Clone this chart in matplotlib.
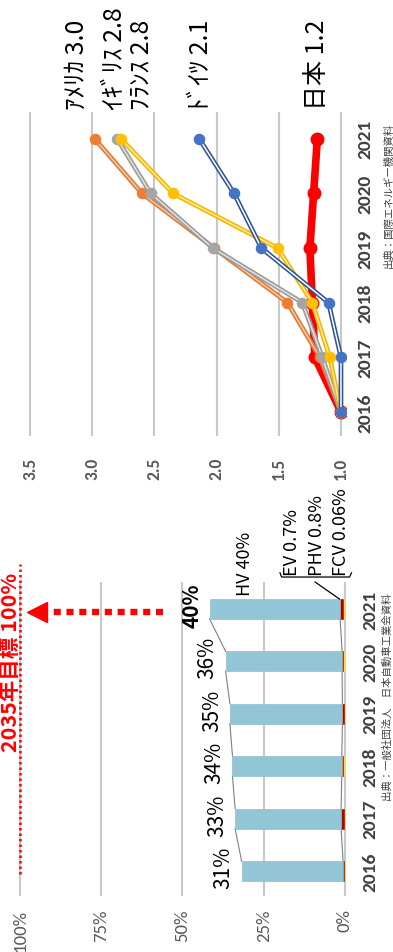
import matplotlib
matplotlib.use("Agg")
import matplotlib.pyplot as plt
from matplotlib import font_manager as fm

# ---------------- data ----------------
years = ["2016", "2017", "2018", "2019", "2020", "2021"]

usa = [1.0, 1.17, 1.43, 2.02, 2.60, 2.98]
uk = [1.0, 1.15, 1.31, 2.03, 2.53, 2.80]
france = [1.0, 1.09, 1.23, 1.51, 2.35, 2.77]
germany = [1.0, 1.0, 1.10, 1.64, 1.86, 2.14]
japan = [1.0, 1.21, 1.23, 1.25, 1.22, 1.19]

country_labels = ["ｱﾒﾘｶ 3.0", "ｲｷﾞﾘｽ 2.8", "ﾌﾗﾝｽ 2.8", "ﾄﾞｲﾂ 2.1", "日本 1.2"]
idx_ticks = [1.0, 1.5, 2.0, 2.5, 3.0, 3.5]

hv = [31.2, 32.6, 33.6, 34.6, 35.8, 40.1]
ev = [0.4, 0.4, 0.5, 0.4, 0.6, 0.7]
phv = [0.2, 0.8, 0.5, 0.4, 0.3, 0.8]
fcv = [0.02, 0.02, 0.02, 0.02, 0.02, 0.06]
pct_ticks = [0, 25, 50, 75, 100]
target = 100

# ---------------- fonts ----------------
names = {f.name for f in fm.fontManager.ttflist}
def pick(*c):
    for n in c:
        if n in names:
            return n
    return "DejaVu Sans"
NARROW = pick("Carlito", "Liberation Sans Narrow", "Liberation Sans")
scale = 1.0 if NARROW != "Liberation Sans" else 0.85
JP = ["Noto Sans CJK JP", "DejaVu Sans"]
plt.rcParams["font.family"] = JP

W, H = 393, 953
fig = plt.figure(figsize=(W / 100, H / 100), dpi=100)
fig.patch.set_facecolor("white")

def rect(l, t, r, b):
    return [l / W, (H - b) / H, (r - l) / W, (b - t) / H]

def ftext(x, y, s, **kw):
    fig.text(x / W, (H - y) / H, s, **kw)

GRID = "#C8C8C8"
TICKC = "#595959"

# ---------------- top chart: index lines ----------------
ax1 = fig.add_axes(rect(25, 113, 346, 437))
ax1.set_xlim(3.5 + 5 / 124, 1.0 - 5 / 124)
ax1.set_ylim(-0.44, 5.49)
for s in ax1.spines.values():
    s.set_visible(False)
ax1.set_xticks(idx_ticks)
ax1.set_xticklabels([f"{t:.1f}" for t in idx_ticks], rotation=90,
                    fontweight="bold", color=TICKC, fontsize=12.5 * scale,
                    family=NARROW)
ax1.tick_params(axis="x", length=0, pad=15)
ax1.xaxis.grid(True, color=GRID, lw=1.5)
ax1.set_axisbelow(True)
ypos = list(range(len(years)))
ax1.set_yticks(ypos)
ax1.set_yticklabels(years, rotation=90, va="center", fontweight="bold",
                    color="#404040", fontsize=14 * scale, family=NARROW)
ax1.yaxis.tick_right()
ax1.tick_params(axis="y", length=0, pad=8)

# Japan (thick red)
ax1.plot(japan, ypos, color="#FF0000", lw=5.5, zorder=3,
         solid_capstyle="round")
ax1.plot(japan, ypos, "o", color="#FF0000", ms=9, zorder=3)

series = [
    (usa, "#E07A35", "#F6C9A8", "#ED7D31"),
    (uk, "#9A9A9A", "#E2E2E2", "#A5A5A5"),
    (france, "#F2B800", "#FFE9A0", "#FFC000"),
    (germany, "#2F5597", "#FFFFFF", "#4472C4"),
]
for k, (vals, outer, inner, mk) in enumerate(series):
    z = 4 + k
    ax1.plot(vals, ypos, color=outer, lw=3.4, zorder=z, solid_joinstyle="round")
    ax1.plot(vals, ypos, color=inner, lw=1.1, zorder=z)
    ax1.plot(vals, ypos, "o", color=mk, ms=7.3, zorder=z)

# country labels (above the plot)
lab_x = [77, 115, 141, 201, 317]
for x, s in zip(lab_x, country_labels):
    ftext(x, 110, s, rotation=90, ha="center", va="bottom", fontsize=18,
          color="black")

ftext(388, 195, "出典：国際エネルギー機関資料", rotation=90, ha="center",
      va="center", fontsize=7.5, color="#404040")

# ---------------- bottom chart: stacked bars ----------------
ax2 = fig.add_axes(rect(15, 583, 350, 897))
ax2.set_xlim(100 + 5 / 3.25, -5 / 3.25)
ax2.set_ylim(-0.477, 5.515)
for s in ax2.spines.values():
    s.set_visible(False)
ax2.set_xticks(pct_ticks)
ax2.set_xticklabels([f"{t}%" for t in pct_ticks], rotation=90,
                    color=TICKC, fontsize=13.5 * scale, family=NARROW)
ax2.tick_params(axis="x", length=0, pad=9)
ax2.xaxis.grid(True, color=GRID, lw=1.5)
ax2.set_axisbelow(True)
ax2.set_yticks(ypos)
ax2.set_yticklabels(years, rotation=90, va="center", fontweight="bold",
                    color="#404040", fontsize=14 * scale, family=NARROW)
ax2.yaxis.tick_right()
ax2.tick_params(axis="y", length=0, pad=9)

bh = 0.38
left = [0.0] * len(years)
for vals, col in [(ev, "#FFD84A"), (phv, "#B00000"), (fcv, "#808080"),
                  (hv, "#92C6D6")]:
    ax2.barh(ypos, vals, left=left, height=bh, color=col,
             edgecolor="#7FB6C6" if col == "#92C6D6" else col, lw=0.4,
             zorder=3)
    left = [a + b for a, b in zip(left, vals)]
totals = left
base = [a + b for a, b in zip(ev, phv)]

# series lines
for i in range(len(years) - 1):
    ax2.plot([totals[i], totals[i + 1]], [i + bh / 2, i + 1 - bh / 2],
             color="#808080", lw=0.8, zorder=2)
    ax2.plot([base[i], base[i + 1]], [i + bh / 2, i + 1 - bh / 2],
             color="#808080", lw=0.8, zorder=2)

# value labels
for i, (t, v) in enumerate(zip(totals, hv)):
    ax2.annotate(f"{v:.0f}%", xy=(t, i), xytext=(-5, 3),
                 textcoords="offset points", rotation=90, ha="right",
                 va="center", fontsize=15,
                 fontweight="bold" if i == len(years) - 1 else "normal",
                 zorder=5)

# HV / EV / PHV / FCV annotations
ftext(245, 596, f"HV {hv[-1]:.0f}%", rotation=90, ha="center", va="bottom",
      fontsize=13)
ftext(292, 576, f"EV {ev[-1]:.1f}%", rotation=90, ha="center", va="bottom",
      fontsize=13)
ftext(317, 576, f"PHV {phv[-1]:.1f}%", rotation=90, ha="center", va="bottom",
      fontsize=13)
ftext(341, 576, f"FCV {fcv[-1]:.2f}%", rotation=90, ha="center", va="bottom",
      fontsize=13)

# bracket and leader line (value units: %, category index)
bx = [20.0, 19.5, -1.4, -2.0]
by = [5.69, 5.61, 5.61, 5.69]
ax2.plot(bx, by, color="black", lw=0.9, clip_on=False, zorder=6)
ax2.plot([9.2, base[-1] + 0.2], [5.515, 5.0 + bh / 2], color="black",
         lw=0.9, clip_on=False, zorder=6)

# 2035 target line + arrow
ax2.plot([target, target], [-0.06, 5.86], color="#FF0000", lw=1.8,
         dashes=(1, 1.2), clip_on=False, zorder=4)
ax2.plot([56, 90.8], [4.94, 4.94], color="#FF0000", lw=4.6,
         dashes=(1.1, 0.9), dash_capstyle="butt", zorder=4)
ax2.plot([94.9], [4.94], marker="<", color="#FF0000", ms=14, zorder=4)
ftext(10.5, 662, "2035年目標 100%", rotation=90, ha="center", va="center",
      fontsize=15.5, fontweight="bold", color="#FF0000")

ftext(388, 697, "出典：一般社団法人　日本自動車工業会資料", rotation=90,
      ha="center", va="center", fontsize=7.5, color="#404040")

fig.savefig("out.png", dpi=100, facecolor="white")
